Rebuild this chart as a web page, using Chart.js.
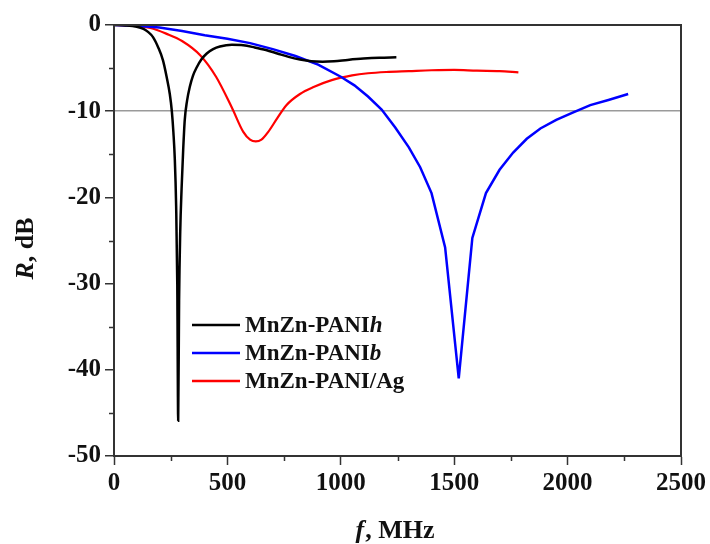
<!DOCTYPE html>
<html>
<head>
<meta charset="utf-8">
<script src="https://cdn.jsdelivr.net/npm/chart.js@4.4.1/dist/chart.umd.min.js"></script>
<style>
  html, body { margin: 0; padding: 0; background: #fff; }
  #wrap { width: 710px; height: 544px; }
</style>
</head>
<body>
<div id="wrap"><canvas id="lossChart" width="710" height="544"></canvas></div>
<script>
// MnZn-PANIh
const freqH = [0, 50, 100, 130, 150, 172, 195, 216, 232, 246, 255, 262, 268, 274, 279, 283, 287, 292, 298, 305, 312, 322, 334, 348, 365, 385, 409, 437, 467, 520, 570, 620, 670, 720, 770, 820, 870, 920, 970, 1030, 1100, 1170, 1245];
const lossH = [0, -0.05, -0.2, -0.45, -0.8, -1.4, -2.6, -4.1, -6.0, -8.0, -10.0, -12.5, -15.5, -21.0, -30.0, -45.9, -32.0, -24.0, -19.0, -14.5, -11.0, -8.8, -7.2, -5.9, -4.9, -4.0, -3.3, -2.8, -2.5, -2.3, -2.35, -2.6, -2.9, -3.3, -3.7, -4.0, -4.2, -4.25, -4.2, -4.05, -3.9, -3.8, -3.75];

// MnZn-PANIb
const freqB = [0, 100, 200, 300, 400, 500, 600, 700, 800, 900, 1000, 1060, 1120, 1180, 1240, 1300, 1350, 1400, 1460, 1520, 1580, 1640, 1700, 1760, 1820, 1880, 1950, 2020, 2100, 2180, 2267];
const lossB = [0, -0.08, -0.3, -0.7, -1.2, -1.6, -2.1, -2.8, -3.6, -4.6, -6.0, -7.0, -8.3, -9.8, -11.9, -14.2, -16.5, -19.5, -25.8, -41.0, -24.7, -19.5, -16.8, -14.8, -13.2, -12.0, -11.0, -10.2, -9.3, -8.7, -8.0];

// MnZn-PANI/Ag
const freqAg = [0, 80, 160, 230, 300, 380, 450, 520, 570, 600, 625, 650, 680, 720, 760, 820, 880, 960, 1050, 1120, 1200, 1300, 1400, 1500, 1600, 1700, 1783];
const lossAg = [0, -0.05, -0.35, -1.0, -1.85, -3.5, -6.0, -9.6, -12.4, -13.3, -13.5, -13.3, -12.4, -10.8, -9.3, -8.0, -7.2, -6.4, -5.85, -5.6, -5.45, -5.35, -5.25, -5.2, -5.3, -5.35, -5.5];

const legendBase = ['MnZn-PANI', 'MnZn-PANI', 'MnZn-PANI/Ag'];
const legendItalic = ['h', 'b', ''];
const refLevel = -10;

const serif = '"Liberation Serif", "Times New Roman", serif';
const axisColor = '#333';

const toPoints = (xs, ys) => xs.map((x, i) => ({ x: x, y: ys[i] }));

// minor ticks, border box, legend and axis titles
const decorations = {
    id: 'decorations',
    afterDraw(chart) {
        const ctx = chart.ctx;
        const area = chart.chartArea;
        const xs = chart.scales.x;
        const ys = chart.scales.y;
        ctx.save();

        ctx.strokeStyle = axisColor;
        ctx.lineWidth = 1.5;
        ctx.beginPath();
        for (let v = 250; v < 2500; v += 500) {
            const px = Math.round(xs.getPixelForValue(v)) + 0.5;
            ctx.moveTo(px, area.bottom);
            ctx.lineTo(px, area.bottom + 5);
        }
        for (let v = -5; v > -50; v -= 10) {
            const py = Math.round(ys.getPixelForValue(v)) + 0.5;
            ctx.moveTo(area.left, py);
            ctx.lineTo(area.left - 5, py);
        }
        ctx.stroke();

        ctx.lineWidth = 2;
        ctx.strokeRect(area.left, area.top, area.right - area.left, area.bottom - area.top);

        // legend
        const lx = area.left + 78;
        const ly = area.top + 300;
        ctx.textBaseline = 'middle';
        chart.data.datasets.forEach((ds, i) => {
            const y = ly + i * 28;
            ctx.strokeStyle = ds.borderColor;
            ctx.lineWidth = 2.5;
            ctx.beginPath();
            ctx.moveTo(lx, y);
            ctx.lineTo(lx + 48, y);
            ctx.stroke();
            ctx.fillStyle = '#111';
            ctx.font = 'bold 23px ' + serif;
            ctx.fillText(legendBase[i], lx + 53, y + 1);
            const w = ctx.measureText(legendBase[i]).width;
            ctx.font = 'italic bold 23px ' + serif;
            ctx.fillText(legendItalic[i], lx + 53 + w, y + 1);
        });

        // axis titles
        ctx.fillStyle = '#111';
        ctx.textBaseline = 'alphabetic';
        ctx.font = 'italic bold 26px ' + serif;
        const fW = ctx.measureText('f').width;
        ctx.font = 'bold 26px ' + serif;
        const restX = ', MHz';
        const restXW = ctx.measureText(restX).width;
        const cx = (area.left + area.right) / 2 - 3;
        const startX = cx - (fW + restXW) / 2;
        ctx.font = 'italic bold 26px ' + serif;
        ctx.fillText('f', startX, 538);
        ctx.font = 'bold 26px ' + serif;
        ctx.fillText(restX, startX + fW + 1, 538);

        ctx.translate(33, (area.top + area.bottom) / 2 + 8);
        ctx.rotate(-Math.PI / 2);
        ctx.font = 'italic bold 26px ' + serif;
        const rW = ctx.measureText('R').width;
        ctx.font = 'bold 26px ' + serif;
        const restY = ', dB';
        const restYW = ctx.measureText(restY).width;
        const sy = -(rW + restYW) / 2;
        ctx.font = 'italic bold 26px ' + serif;
        ctx.fillText('R', sy, 0);
        ctx.font = 'bold 26px ' + serif;
        ctx.fillText(restY, sy + rW, 0);

        ctx.restore();
    }
};

const ctx = document.getElementById('lossChart').getContext('2d');
new Chart(ctx, {
    type: 'line',
    data: {
        datasets: [{
            label: 'MnZn-PANIh',
            data: toPoints(freqH, lossH),
            borderColor: '#000000',
            borderWidth: 2.5,
            cubicInterpolationMode: 'monotone'
        }, {
            label: 'MnZn-PANIb',
            data: toPoints(freqB, lossB),
            borderColor: '#0000ff',
            borderWidth: 2.5,
            tension: 0
        }, {
            label: 'MnZn-PANI/Ag',
            data: toPoints(freqAg, lossAg),
            borderColor: '#ff0000',
            borderWidth: 2.2,
            cubicInterpolationMode: 'monotone'
        }]
    },
    options: {
        responsive: false,
        animation: false,
        events: [],
        layout: { padding: { top: 25, right: 28, left: 0, bottom: 0 } },
        elements: { point: { radius: 0 } },
        plugins: {
            legend: { display: false },
            tooltip: { enabled: false }
        },
        scales: {
            x: {
                type: 'linear',
                min: 0,
                max: 2500,
                border: { display: true, color: axisColor, width: 2 },
                grid: { drawOnChartArea: false, tickLength: 9, tickColor: axisColor, tickWidth: 1.5 },
                ticks: {
                    stepSize: 500,
                    autoSkip: false,
                    maxRotation: 0,
                    padding: 4,
                    color: '#111',
                    font: { family: serif, size: 25, weight: 'bold' },
                    callback: (v) => String(v)
                },
                afterFit: (scale) => { scale.height = 88; }
            },
            y: {
                min: -50,
                max: 0,
                border: { display: true, color: axisColor, width: 2 },
                grid: {
                    drawOnChartArea: true,
                    tickLength: 9,
                    tickWidth: 1.5,
                    tickColor: axisColor,
                    color: (c) => (c.tick && c.tick.value === refLevel ? '#9a9a9a' : 'rgba(0,0,0,0)'),
                    lineWidth: 1.5
                },
                ticks: {
                    stepSize: 10,
                    autoSkip: false,
                    padding: 4,
                    color: '#111',
                    font: { family: serif, size: 25, weight: 'bold' },
                    callback: (v) => String(v)
                },
                afterFit: (scale) => { scale.width = 114; }
            }
        }
    },
    plugins: [decorations]
});
</script>
</body>
</html>
